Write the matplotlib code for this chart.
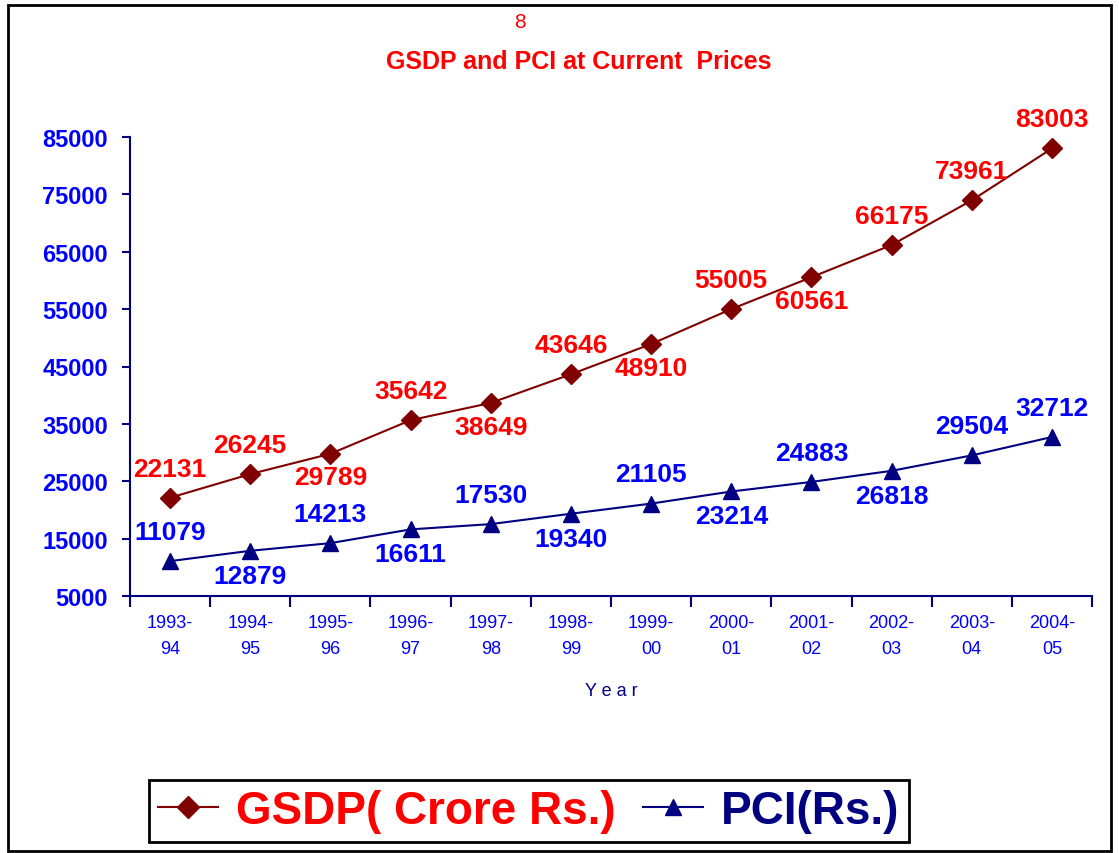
import matplotlib.pyplot as plt
from matplotlib.lines import Line2D
from matplotlib.patches import Rectangle

years = ["1993-\n94", "1994-\n95", "1995-\n96", "1996-\n97", "1997-\n98", "1998-\n99",
         "1999-\n00", "2000-\n01", "2001-\n02", "2002-\n03", "2003-\n04", "2004-\n05"]
gsdp = [22131, 26245, 29789, 35642, 38649, 43646, 48910, 55005, 60561, 66175, 73961, 83003]
pci = [11079, 12879, 14213, 16611, 17530, 19340, 21105, 23214, 24883, 26818, 29504, 32712]
# label above (1) or below (-1) the point
gsdp_pos = [1, 1, -1, 1, -1, 1, -1, 1, -1, 1, 1, 1]
pci_pos = [1, -1, 1, -1, 1, -1, 1, -1, 1, -1, 1, 1]
yticks = [5000, 15000, 25000, 35000, 45000, 55000, 65000, 75000, 85000]

plt.rcParams['font.family'] = ['Liberation Sans', 'DejaVu Sans']

maroon = '#800000'
navy = '#000080'
red = '#FF0000'
blue = '#0000FF'

fig = plt.figure(figsize=(11.19, 8.54), dpi=100)
ax = fig.add_axes([130/1119, 1-597/854, (1092-130)/1119, (597-138)/854])

x = list(range(len(years)))
ax.plot(x, gsdp, color=maroon, lw=1.5, marker='D', ms=10, mfc=maroon, mec=maroon)
ax.plot(x, pci, color=navy, lw=1.5, marker='^', ms=11, mfc=navy, mec=navy)

for i in x:
    off = 21 if gsdp_pos[i] > 0 else -17
    ax.annotate(str(gsdp[i]), (i, gsdp[i]), xytext=(0, off), textcoords='offset points',
                ha='center', va='center', color=red, fontsize=19, fontweight='bold')
    off = 21 if pci_pos[i] > 0 else -18
    ax.annotate(str(pci[i]), (i, pci[i]), xytext=(0, off), textcoords='offset points',
                ha='center', va='center', color=blue, fontsize=19, fontweight='bold')

ax.set_xlim(-0.5, len(years) - 0.5)
ax.set_ylim(5000, 85000)
ax.set_yticks(yticks)
ax.set_yticklabels([str(v) for v in yticks], color=blue, fontsize=17, fontweight='bold')
ax.set_xticks([i - 0.5 for i in range(len(years) + 1)])
ax.set_xticklabels([])
ax.set_xticks(x, minor=True)
ax.set_xticklabels(years, minor=True, color=blue, fontsize=13, linespacing=1.7)
ax.tick_params(axis='x', which='major', length=8, width=1.5, color=navy, direction='out')
ax.tick_params(axis='x', which='minor', length=0, pad=13)
ax.tick_params(axis='y', length=6, width=1.5, color=navy, direction='out', pad=10)
for s in ['top', 'right']:
    ax.spines[s].set_visible(False)
for s in ['left', 'bottom']:
    ax.spines[s].set_color(navy)
    ax.spines[s].set_linewidth(1.5)

ax.set_xlabel("Y e a r", color=navy, fontsize=13, labelpad=18)

fig.text(520/1119, 1-22/854, "8", color=red, fontsize=15, ha='center', va='center')
fig.text(579/1119, 1-62/854, "GSDP and PCI at Current  Prices", color=red, fontsize=18,
         fontweight='bold', ha='center', va='center')

# outer frame
fig.patches.append(Rectangle((8/1119, 2/854), (1111-8)/1119, (848-2)/854,
                             transform=fig.transFigure, fill=False, ec='black', lw=2))

handles = [Line2D([], [], color=maroon, lw=1.5, marker='D', ms=11),
           Line2D([], [], color=navy, lw=1.5, marker='^', ms=12)]
leg = fig.legend(handles, ["GSDP( Crore Rs.)", "PCI(Rs.)"], loc='center',
                 bbox_to_anchor=(529/1119, 1-812/854), ncol=2, fancybox=False,
                 edgecolor='black', framealpha=1, handlelength=1.3, handletextpad=0.4,
                 columnspacing=0.6, borderpad=0.2, prop={'size': 33, 'weight': 'bold'})
leg.get_frame().set_linewidth(2)
leg.get_texts()[0].set_color(red)
leg.get_texts()[1].set_color(navy)

fig.savefig("out.png", dpi=100)
